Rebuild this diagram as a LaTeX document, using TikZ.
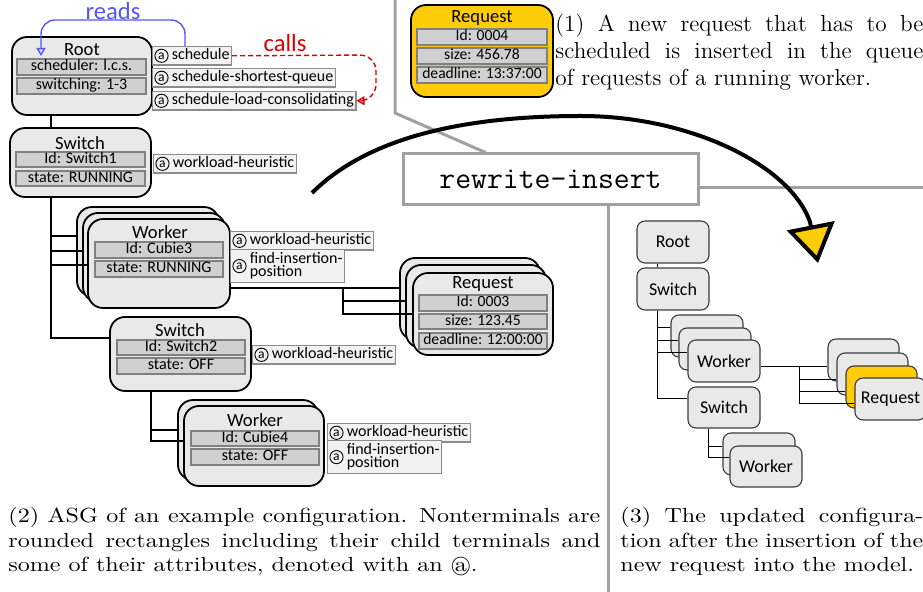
\documentclass[tikz,border=0pt]{standalone}
\usepackage{fontspec}
\newfontfamily\carlito{Carlito}
\newfontfamily\capwide{lmroman10-regular.otf}[FakeStretch=1.18]
\usetikzlibrary{arrows.meta, calc}
\definecolor{ntfill}{RGB}{233,233,233}
\definecolor{barfill}{RGB}{208,208,208}
\definecolor{barline}{RGB}{128,128,128}
\definecolor{annfill}{RGB}{242,242,242}
\definecolor{annline}{RGB}{140,140,140}
\definecolor{divgray}{RGB}{160,160,160}
\definecolor{reqyellow}{RGB}{255,204,10}
\definecolor{readblue}{RGB}{85,85,255}
\definecolor{callred}{RGB}{220,0,0}
\definecolor{sline}{RGB}{60,60,60}
\newcommand\annpad{\hspace*{8.6pt}}
\tikzset{
  spanbox/.style n args={4}{at={({(#1+#3)/2},{(#2+#4)/2})},
    minimum width={(#3-#1)*0.5pt}, minimum height={(#4-#2)*0.5pt}},
  ntbox/.style={draw=black, line width=0.9pt, fill=ntfill, rounded corners=7.5pt, inner sep=0pt},
  ntitle/.style={font=\carlito\fontsize{9.3}{10}\selectfont, inner sep=0pt},
  attr/.style={draw=barline, line width=0.6pt, fill=barfill, inner sep=0pt,
    font=\carlito\fontsize{8}{9}\selectfont, text height=5.6pt, text depth=1.6pt},
  attrR/.style={attr, font=\carlito\fontsize{7.8}{9}\selectfont},
  ann/.style={draw=annline, line width=0.6pt, fill=annfill, inner xsep=1pt, inner ysep=0pt,
    anchor=north west, minimum height=9.2pt,
    font=\carlito\fontsize{8}{9}\selectfont, text height=5.6pt, text depth=1.6pt},
  anntwo/.style={draw=annline, line width=0.6pt, fill=annfill, inner xsep=1pt, inner ysep=0.6pt,
    anchor=north west, minimum height=16.5pt, align=left,
    font=\carlito\fontsize{8}{6.6}\selectfont},
  cira/.style={circle, draw=black, line width=0.45pt, inner sep=0pt, minimum size=6.6pt,
    font=\carlito\fontsize{6.8}{7}\selectfont},
  tree/.style={draw=black, line width=1pt},
  sbox/.style={draw=sline, line width=0.55pt, fill=ntfill, rounded corners=4pt, inner sep=0pt,
    font=\carlito\fontsize{9}{10}\selectfont},
  stree/.style={draw=black, line width=0.5pt},
  divider/.style={draw=divgray, line width=1.5pt},
  lbl/.style={inner sep=0pt, font=\carlito\fontsize{12.3}{13}\selectfont},
  captext/.style={inner sep=0pt, anchor=north west, align=justify},
}
\begin{document}
\begin{tikzpicture}[x=0.5pt, y=-0.5pt]
\useasboundingbox (0,0) rectangle (923,592);

% ---------- dividers ----------
\node[draw=divgray, line width=1.5pt, fill=white, inner sep=0pt,
  spanbox={403}{154}{698}{205},
  font=\ttfamily\fontsize{15.4}{18}\selectfont] (ri) {rewrite-insert};
\coordinate (dTop) at (395,0);
\coordinate (dKnee) at (395,113);
\draw[divider] (dTop) -- (dKnee) -- ($(ri.north west)+(84,0)$);
\coordinate (hR) at (923,188);
\draw[divider] (ri.east |- hR) -- (hR);
\coordinate (vB) at (608,592);
\draw[divider] (ri.south -| vB) -- (vB);

% ---------- left panel: Root ----------
\node[ntbox, spanbox={12}{37}{152}{115}] (root) {};
\node[ntitle] (rootT) at (82,50) {Root};
\node[attr, spanbox={17}{59}{146}{75}] (rootA1) {scheduler: l.c.s.};
\node[attr, spanbox={17}{78}{146}{94}] (rootA2) {switching: 1-3};
\node[ann] (rootN1) at (152,46) {\annpad schedule};
\node[ann] (rootN2) at (152,68) {\annpad schedule-shortest-queue};
\node[ann] (rootN3) at (152,91) {\annpad schedule-load-consolidating};
\node[cira] (rootN1c) at ($(rootN1.west)+(9.5,0)$) {a};
\node[cira] (rootN2c) at ($(rootN2.west)+(9.5,0)$) {a};
\node[cira] (rootN3c) at ($(rootN3.west)+(9.5,0)$) {a};

% Switch 1
\node[ntbox, spanbox={10}{128}{151}{197}] (sw1) {};
\node[ntitle] (sw1T) at (80,143) {Switch};
\node[attr, spanbox={16}{152}{145}{167}] (sw1A1) {Id: Switch1};
\node[attr, spanbox={16}{171}{145}{186}] (sw1A2) {state: RUNNING};
\node[ann] (sw1N1) at (153,154) {\annpad workload-heuristic};
\node[cira] (sw1N1c) at ($(sw1N1.west)+(9.5,0)$) {a};

% Worker 1 stack
\node[ntbox, spanbox={77}{207}{219}{296}] (wk1c) {};
\node[ntbox, spanbox={83}{213}{225}{302}] (wk1b) {};
\node[ntbox, spanbox={88}{219}{230}{308}] (wk1) {};
\node[ntitle] (wk1T) at (160,232) {Worker};
\node[attr, spanbox={95}{242}{223}{258}] (wk1A1) {Id: Cubie3};
\node[attr, spanbox={95}{261}{223}{277}] (wk1A2) {state: RUNNING};
\node[ann] (wk1N1) at (230,231) {\annpad workload-heuristic};
\node[cira] (wk1N1c) at ($(wk1N1.west)+(9.5,0)$) {a};
\node[anntwo] (wk1N2) at (230,249) {\annpad find-insertion-\\\annpad position};
\node[cira] (wk1N2c) at ($(wk1N2.west)+(9.5,0)$) {a};

% Request stack
\node[ntbox, spanbox={400}{258}{540}{340}] (rq1c) {};
\node[ntbox, spanbox={406}{265}{546}{348}] (rq1b) {};
\node[ntbox, spanbox={413}{273}{553}{355}] (rq1) {};
\node[ntitle] (rq1T) at (483,284) {Request};
\node[attrR, spanbox={419}{295}{547}{311}] (rq1A1) {Id: 0003};
\node[attrR, spanbox={419}{314}{547}{329}] (rq1A2) {size: 123.45};
\node[attrR, spanbox={419}{333}{547}{349}] (rq1A3) {deadline: 12:00:00};

% Switch 2
\node[ntbox, spanbox={110}{317}{251}{391}] (sw2) {};
\node[ntitle] (sw2T) at (180,330) {Switch};
\node[attr, spanbox={117}{340}{245}{355}] (sw2A1) {Id: Switch2};
\node[attr, spanbox={117}{358}{245}{374}] (sw2A2) {state: OFF};
\node[ann] (sw2N1) at (252,345) {\annpad workload-heuristic};
\node[cira] (sw2N1c) at ($(sw2N1.west)+(9.5,0)$) {a};

% Worker 2 stack
\node[ntbox, spanbox={178}{400}{318}{480}] (wk2b) {};
\node[ntbox, spanbox={184}{406}{324}{486}] (wk2) {};
\node[ntitle] (wk2T) at (255,420) {Worker};
\node[attr, spanbox={191}{431}{319}{446}] (wk2A1) {Id: Cubie4};
\node[attr, spanbox={191}{449}{319}{465}] (wk2A2) {state: OFF};
\node[ann] (wk2N1) at (327,423) {\annpad workload-heuristic};
\node[cira] (wk2N1c) at ($(wk2N1.west)+(9.5,0)$) {a};
\node[anntwo] (wk2N2) at (327,440) {\annpad find-insertion-\\\annpad position};
\node[cira] (wk2N2c) at ($(wk2N2.west)+(9.5,0)$) {a};

% tree connectors (left)
\coordinate (t1) at (51,0);
\coordinate (j2) at (51,338);
\coordinate (b1) at (51,236);
\coordinate (b2) at (51,251);
\coordinate (b3) at (51,265);
\draw[tree] (root.south -| t1) -- (sw1.north -| t1);
\draw[tree] (sw1.south -| t1) -- (j2) -- (j2 -| sw2.west);
\draw[tree] (b1) -- (b1 -| wk1c.west);
\draw[tree] (b2) -- (b2 -| wk1b.west);
\draw[tree] (b3) -- (b3 -| wk1.west);
\coordinate (j3) at (343,288);
\coordinate (j4) at (343,301);
\coordinate (j5) at (343,314);
\draw[tree] (j3 -| wk1.east) -- (j3 -| rq1c.west);
\draw[tree] (j3) -- (j5) -- (j5 -| rq1.west);
\draw[tree] (j4) -- (j4 -| rq1b.west);
\coordinate (t2) at (151,0);
\coordinate (k1) at (151,430);
\coordinate (k2) at (151,441);
\draw[tree] (sw2.south -| t2) -- (k2) -- (k2 -| wk2.west);
\draw[tree] (k1) -- (k1 -| wk2b.west);

% reads / calls
\coordinate (rdC) at (41,20);
\coordinate (rdE) at (41,56);
\draw[readblue, line width=0.7pt, rounded corners=7pt, -{Triangle[open, length=4pt, width=4.5pt]}]
  ($(rootN1.north west)+(33,0)$) |- (rdC) -- (rdE);
\node[lbl, text=readblue] (readsL) at (113,11) {reads};
\coordinate (clA) at (376,55);
\coordinate (clB) at (376,100.5);
\draw[callred, line width=0.7pt, dash pattern=on 2.5pt off 1.5pt, rounded corners=8pt,
  -{Triangle[open, length=4pt, width=4.5pt]}]
  (rootN1.east) -- (clA) -- (clB) -- (rootN3.east);
\node[lbl, text=callred] (callsL) at (285,43) {calls};

% ---------- new request ----------
\node[ntbox, fill=reqyellow, spanbox={411}{5}{553}{97}] (nrq) {};
\node[ntitle] (nrqT) at (482,18) {Request};
\node[attrR, spanbox={417}{29}{547}{45}] (nrqA1) {Id: 0004};
\node[attrR, spanbox={417}{48}{547}{64}] (nrqA2) {size: 456.78};
\node[attrR, spanbox={417}{67}{547}{83}] (nrqA3) {deadline: 13:37:00};

% ---------- right panel ----------
\node[sbox, spanbox={637}{221}{709}{263}] (rRoot) {Root};
\node[sbox, spanbox={637}{268}{709}{310}] (rSw1) {Switch};
\node[sbox, spanbox={671}{315}{743}{357}] (rWk1c) {};
\node[sbox, spanbox={679}{328}{751}{370}] (rWk1b) {};
\node[sbox, spanbox={688}{340}{760}{382}] (rWk1) {Worker};
\node[sbox, spanbox={688}{387}{760}{428}] (rSw2) {Switch};
\node[sbox, spanbox={723}{433}{795}{475}] (rWk2b) {};
\node[sbox, spanbox={730}{446}{802}{487}] (rWk2) {Worker};
\node[sbox, spanbox={828}{339}{899}{381}] (rRq1d) {};
\node[sbox, spanbox={837}{353}{908}{395}] (rRq1c) {};
\node[sbox, fill=reqyellow, spanbox={846}{366}{917}{408}] (rRq1b) {};
\node[sbox, spanbox={855}{378}{926}{420}] (rRq1) {Request};

\coordinate (u1) at (657,0);
\coordinate (u2) at (657,399);
\coordinate (v1) at (657,328);
\coordinate (v2) at (657,341);
\coordinate (v3) at (657,353);
\draw[stree] (rRoot.south -| u1) -- (rSw1.north -| u1);
\draw[stree] (rSw1.south -| u1) -- (u2) -- (u2 -| rSw2.west);
\draw[stree] (v1) -- (v1 -| rWk1c.west);
\draw[stree] (v2) -- (v2 -| rWk1b.west);
\draw[stree] (v3) -- (v3 -| rWk1.west);
\coordinate (u3) at (799,367);
\coordinate (u4) at (799,380);
\coordinate (u5) at (799,392);
\coordinate (u6) at (799,404);
\draw[stree] (u3 -| rWk1.east) -- (u3 -| rRq1d.west);
\draw[stree] (u3) -- (u6) -- (u6 -| rRq1.west);
\draw[stree] (u4) -- (u4 -| rRq1c.west);
\draw[stree] (u5) -- (u5 -| rRq1b.west);
\coordinate (u7) at (708,447);
\coordinate (u8) at (708,458);
\draw[stree] (rSw2.south -| u7) -- (u8) -- (u8 -| rWk2.west);
\draw[stree] (u7) -- (u7 -| rWk2b.west);

% ---------- big arrow ----------
\coordinate (cS) at (312,193);
\coordinate (cM) at (581,116);
\coordinate (cB) at (810,222);
\coordinate (cE) at (818,263);
\draw[line width=2pt, -{Triangle[length=19pt, width=24pt, fill=reqyellow]}]
  (cS) .. controls (370,135) and (470,116) .. (cM)
       .. controls (690,116) and (790,165) .. (cB) -- (cE);

% ---------- captions ----------
\node[captext, text width=184pt, font=\fontsize{11.6}{13.5}\selectfont] (cap1) at (555,14)
  {(1) A new request that has to be\linebreak scheduled is inserted in the queue\linebreak of requests of a running worker.};
\node[captext, text width=296pt, font=\capwide\fontsize{10.2}{12.25}\selectfont] (cap2) at (8,507)
  {(2) ASG of an example configuration. Nonterminals are\linebreak rounded rectangles including their child terminals and\linebreak some of their attributes, denoted with an \textcircled{a}.};
\node[captext, text width=151.5pt, font=\capwide\fontsize{10.2}{12.25}\selectfont] (cap3) at (620,507)
  {(3) The updated configura-\linebreak tion after the insertion of the\linebreak new request into the model.};
\end{tikzpicture}
\end{document}
